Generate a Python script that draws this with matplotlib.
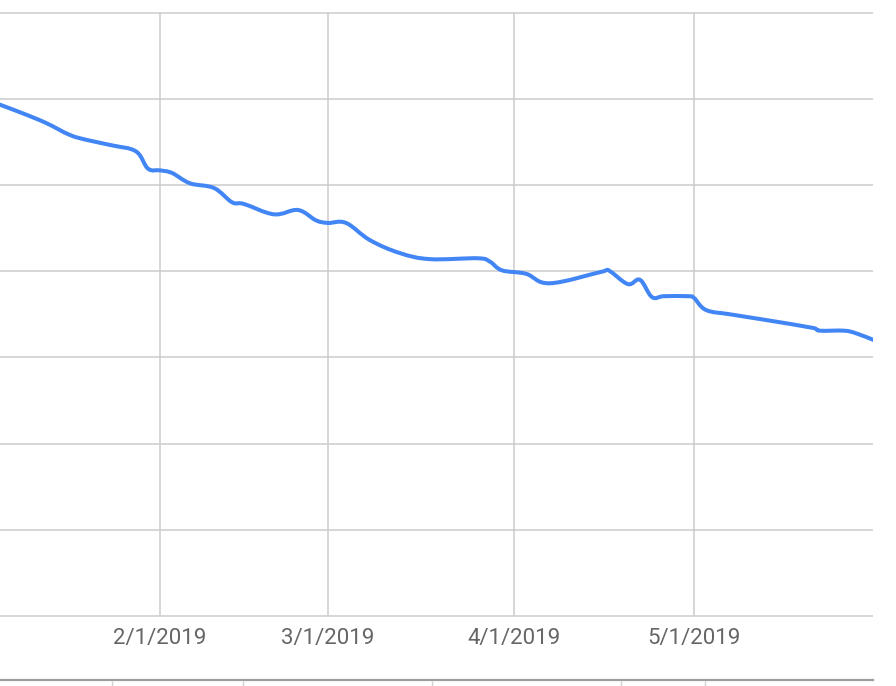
import matplotlib
matplotlib.use("Agg")
import matplotlib.pyplot as plt
import matplotlib.dates as mdates
from matplotlib.path import Path
from matplotlib.patches import PathPatch
import numpy as np
import pandas as pd

# ---- data ----
dates = ["2019-01-05", "2019-01-09", "2019-01-13", "2019-01-17", "2019-01-20",
         "2019-01-24", "2019-01-28", "2019-01-30", "2019-02-01", "2019-02-03",
         "2019-02-06", "2019-02-10", "2019-02-13", "2019-02-15", "2019-02-20",
         "2019-02-24", "2019-02-27", "2019-03-01", "2019-03-04", "2019-03-08",
         "2019-03-13", "2019-03-18", "2019-03-26", "2019-03-28", "2019-03-30",
         "2019-04-03", "2019-04-07", "2019-04-16", "2019-04-17", "2019-04-20",
         "2019-04-22", "2019-04-24", "2019-04-26", "2019-04-30", "2019-05-01",
         "2019-05-03", "2019-05-07", "2019-05-12", "2019-05-21", "2019-05-22",
         "2019-05-26", "2019-05-28", "2019-05-31"]
values = [59.4, 58.35, 57.2, 55.8, 55.2,
          54.6, 53.9, 51.9, 51.7, 51.4,
          50.2, 49.65, 48.0, 47.8, 46.6,
          47.1, 45.9, 45.6, 45.6, 43.6,
          42.1, 41.4, 41.5, 41.1, 40.1,
          39.7, 38.6, 40.0, 40.0, 38.5,
          39.0, 37.0, 37.1, 37.1, 36.9,
          35.5, 35.0, 34.45, 33.4, 33.1,
          33.1, 32.8, 32.0]
x_ticks = ["2019-02-01", "2019-03-01", "2019-04-01", "2019-05-01"]
x_tick_labels = ["2/1/2019", "3/1/2019", "4/1/2019", "5/1/2019"]
y_grid = [0, 10, 20, 30, 40, 50, 60, 70]
nav_ticks = [112, 243, 432, 621, 705]  # navigator strip tick positions (of 896)

plt.rcParams['font.family'] = ['Roboto', 'DejaVu Sans']

W, H = 896, 686
fig = plt.figure(figsize=(W / 100, H / 100), dpi=100)
fig.patch.set_facecolor('white')

ax = fig.add_axes([0, 65.7 / H, 873 / W, 616.3 / H])
d = pd.to_datetime(dates)
t = pd.to_datetime(x_ticks)

ax.set_xlim(pd.Timestamp("2019-01-05 08:00"), pd.Timestamp("2019-05-30 20:00"))
ax.set_ylim(-0.5, 71)

grid_c = '#cccccc'
ax.hlines(y_grid, ax.get_xlim()[0], ax.get_xlim()[1], colors=grid_c, lw=1.1, zorder=1)
ax.vlines(t, y_grid[0], y_grid[-1], colors=grid_c, lw=1.1, zorder=1)

# smoothed rendering of the series (Catmull-Rom style bezier through the data points)
xs = mdates.date2num(d)
ys = np.asarray(values, dtype=float)
k = 0.18
verts = [(xs[0], ys[0])]
codes = [Path.MOVETO]
n = len(xs)
for i in range(n - 1):
    p0 = (xs[i - 1], ys[i - 1]) if i > 0 else (xs[i], ys[i])
    p1 = (xs[i], ys[i])
    p2 = (xs[i + 1], ys[i + 1])
    p3 = (xs[i + 2], ys[i + 2]) if i + 2 < n else p2
    c1 = (p1[0] + (p2[0] - p0[0]) * k, p1[1] + (p2[1] - p0[1]) * k)
    c2 = (p2[0] - (p3[0] - p1[0]) * k, p2[1] - (p3[1] - p1[1]) * k)
    # keep control points within segment x-range to avoid loops
    c1 = (min(max(c1[0], p1[0]), p2[0]), c1[1])
    c2 = (min(max(c2[0], p1[0]), p2[0]), c2[1])
    verts += [c1, c2, p2]
    codes += [Path.CURVE4] * 3
patch = PathPatch(Path(verts, codes), facecolor='none', edgecolor='#4285F4',
                  lw=2.9, capstyle='round', joinstyle='round', zorder=3)
ax.add_patch(patch)

for s in ax.spines.values():
    s.set_visible(False)
ax.set_yticks([])
ax.set_xticks(t)
ax.set_xticklabels(x_tick_labels)
ax.tick_params(axis='x', length=0, pad=5.5, labelsize=16, labelcolor='#666666')

# navigator strip at the bottom
nav = fig.add_axes([0, 0, 1, 1], zorder=-1)
nav.set_xlim(0, W)
nav.set_ylim(H, 0)
nav.axis('off')
nav.plot([0, 873], [680, 680], color='#9e9e9e', lw=1.6)
nav.vlines(nav_ticks, 681, 686, colors='#d0d0d0', lw=1.0)

fig.savefig("out.png", dpi=100, facecolor='white')
